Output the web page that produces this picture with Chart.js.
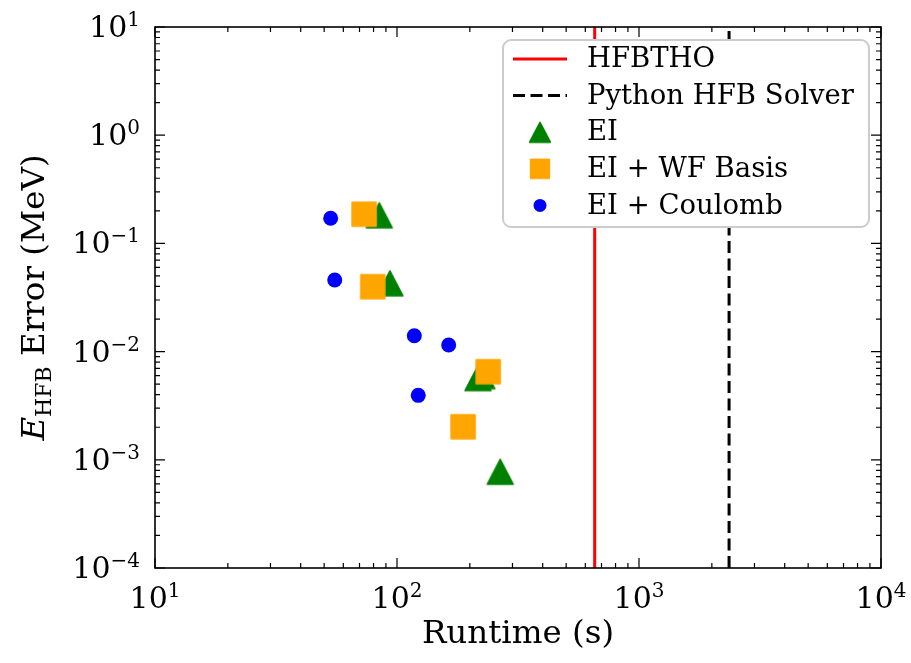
<!DOCTYPE html>
<html>
<head>
<meta charset="utf-8">
<script src="https://cdn.jsdelivr.net/npm/chart.js@4.4.1/dist/chart.umd.min.js"></script>
<style>
  html, body { margin: 0; padding: 0; background: #fff; }
  #wrap { width: 911px; height: 663px; }
</style>
</head>
<body>
<div id="wrap"><canvas id="chart"></canvas></div>
<script>
// values
const eiRuntime = [84.5, 93.5, 216, 224, 267];
const eiError = [0.182, 0.0428, 0.0057, 0.00594, 0.000776];

const wfRuntime = [73.1, 79.4, 238, 187.5];
const wfError = [0.186, 0.0398, 0.00652, 0.00202];

const coulombRuntime = [53.2, 55.3, 117.9, 163.5, 122.4];
const coulombError = [0.171, 0.0459, 0.0140, 0.0115, 0.00394];

const hfbthoRuntime = 656;
const pythonRuntime = 2356;

const xExponents = [1, 2, 3, 4];
const yExponents = [-4, -3, -2, -1, 0, 1];

const legendLabels = ["HFBTHO", "Python HFB Solver", "EI", "EI + WF Basis", "EI + Coulomb"];

const serif = '"DejaVu Serif", serif';

const toPoints = (xs, ys) => xs.map((v, i) => ({ x: v, y: ys[i] }));

function triangleMarker(scale) {
  const c = document.createElement("canvas");
  const w = Math.round(30 * scale), h = Math.round(29 * scale);
  c.width = w; c.height = h;
  const g = c.getContext("2d");
  g.fillStyle = g.strokeStyle = "#008000";
  g.lineJoin = "round";
  g.lineWidth = 1.5;
  g.beginPath();
  g.moveTo(w / 2, 2 * scale);
  g.lineTo(w - 2 * scale, h - 2 * scale);
  g.lineTo(2 * scale, h - 2 * scale);
  g.closePath();
  g.fill(); g.stroke();
  return c;
}

function squareMarker(scale) {
  const c = document.createElement("canvas");
  const s = Math.round(28 * scale);
  c.width = s; c.height = s;
  const g = c.getContext("2d");
  g.fillStyle = g.strokeStyle = "#ffa500";
  g.lineJoin = "round";
  g.lineWidth = 1.5;
  g.beginPath();
  g.rect(2 * scale, 2 * scale, s - 4 * scale, s - 4 * scale);
  g.fill(); g.stroke();
  return c;
}

const triImg = triangleMarker(1);
const sqImg = squareMarker(1);
const triSmall = triangleMarker(0.8);
const sqSmall = squareMarker(0.8);

function drawPow(ctx, exp, cx, cy, align) {
  const base = "10";
  const sup = exp < 0 ? "\u2212" + (-exp) : String(exp);
  ctx.font = "30px " + serif;
  const wb = ctx.measureText(base).width;
  ctx.font = "20px " + serif;
  const ws = ctx.measureText(sup).width;
  const total = wb + ws;
  let x0 = align === "right" ? cx - total : cx - total / 2;
  ctx.textBaseline = "alphabetic";
  ctx.textAlign = "left";
  ctx.font = "30px " + serif;
  ctx.fillText(base, x0, cy + 11);
  ctx.font = "20px " + serif;
  ctx.fillText(sup, x0 + wb, cy);
}

const decor = {
  id: "decor",
  afterDatasetsDraw(chart) {
    const { ctx, chartArea: a, scales } = chart;
    const xs = scales.x, ys = scales.y;
    ctx.save();
    ctx.strokeStyle = "#000";
    ctx.lineWidth = 1.2;
    ctx.beginPath();
    for (let e = 1; e <= 4; e++) {
      for (let m = 1; m <= 9; m++) {
        if (e === 4 && m > 1) break;
        const px = xs.getPixelForValue(m * Math.pow(10, e));
        const len = m === 1 ? 10 : 5;
        ctx.moveTo(px, a.bottom); ctx.lineTo(px, a.bottom - len);
        ctx.moveTo(px, a.top); ctx.lineTo(px, a.top + len);
      }
    }
    for (let e = -4; e <= 1; e++) {
      for (let m = 1; m <= 9; m++) {
        if (e === 1 && m > 1) break;
        const py = ys.getPixelForValue(m * Math.pow(10, e));
        const len = m === 1 ? 10 : 5;
        ctx.moveTo(a.left, py); ctx.lineTo(a.left + len, py);
        ctx.moveTo(a.right, py); ctx.lineTo(a.right - len, py);
      }
    }
    ctx.stroke();
    ctx.lineWidth = 1.6;
    ctx.strokeRect(a.left, a.top, a.right - a.left, a.bottom - a.top);
    ctx.restore();
  },
  afterDraw(chart) {
    const { ctx, chartArea: a, scales } = chart;
    const xs = scales.x, ys = scales.y;
    ctx.save();
    ctx.fillStyle = "#000";

    // tick labels
    xExponents.forEach(e => drawPow(ctx, e, xs.getPixelForValue(Math.pow(10, e)), 597, "center"));
    yExponents.forEach(e => drawPow(ctx, e, a.left - 15, ys.getPixelForValue(Math.pow(10, e)) - 1, "right"));

    // x title
    ctx.font = "32.5px " + serif;
    ctx.textAlign = "center";
    ctx.textBaseline = "alphabetic";
    ctx.fillText("Runtime (s)", (a.left + a.right) / 2, 643);

    // y title
    ctx.save();
    ctx.translate(33, (a.top + a.bottom) / 2);
    ctx.rotate(-Math.PI / 2);
    ctx.textAlign = "left";
    const fE = "italic 32.5px " + serif, fSub = "22px " + serif, fRest = "32.5px " + serif;
    ctx.font = fE; const wE = ctx.measureText("E").width;
    ctx.font = fSub; const wS = ctx.measureText("HFB").width;
    ctx.font = fRest; const rest = " Error (MeV)"; const wR = ctx.measureText(rest).width;
    let x0 = -(wE + wS + wR) / 2;
    ctx.font = fE; ctx.fillText("E", x0, 11);
    ctx.font = fSub; ctx.fillText("HFB", x0 + wE, 18);
    ctx.font = fRest; ctx.fillText(rest, x0 + wE + wS, 11);
    ctx.restore();

    // legend
    const bx = 503, by = 40, bw = 366, bh = 187;
    ctx.beginPath();
    ctx.roundRect(bx, by, bw, bh, 8);
    ctx.fillStyle = "#ffffff";
    ctx.fill();
    ctx.lineWidth = 2;
    ctx.strokeStyle = "#cccccc";
    ctx.stroke();

    const rowY = i => 59 + i * 36.6;
    ctx.lineWidth = 3;
    ctx.strokeStyle = "#ff0000";
    ctx.beginPath(); ctx.moveTo(513, rowY(0)); ctx.lineTo(567, rowY(0)); ctx.stroke();
    ctx.strokeStyle = "#000";
    ctx.setLineDash([12, 5.5]);
    ctx.beginPath(); ctx.moveTo(513, rowY(1)); ctx.lineTo(567, rowY(1)); ctx.stroke();
    ctx.setLineDash([]);
    ctx.drawImage(triSmall, 540 - triSmall.width / 2, rowY(2) - triSmall.height / 2);
    ctx.drawImage(sqSmall, 540 - sqSmall.width / 2, rowY(3) - sqSmall.height / 2);
    ctx.fillStyle = "#0000ff";
    ctx.beginPath(); ctx.arc(540, rowY(4), 6.5, 0, Math.PI * 2); ctx.fill();

    ctx.fillStyle = "#000";
    ctx.font = "27.5px " + serif;
    ctx.textAlign = "left";
    ctx.textBaseline = "middle";
    legendLabels.forEach((t, i) => ctx.fillText(t, 587, rowY(i) + 1));
    ctx.restore();
  }
};

const vline = (xv, color, dash, order) => ({
  type: "line",
  data: [{ x: xv, y: 1e-4 }, { x: xv, y: 10 }],
  borderColor: color,
  borderWidth: 3,
  borderDash: dash,
  pointRadius: 0,
  showLine: true,
  fill: false,
  order: order
});

const hiddenAxis = {
  ticks: { display: false },
  grid: { display: false, drawTicks: false },
  border: { display: false },
  title: { display: false }
};

new Chart(document.getElementById("chart"), {
  type: "scatter",
  data: {
    datasets: [
      vline(hfbthoRuntime, "#ff0000", [], 5),
      vline(pythonRuntime, "#000000", [12, 5.5], 4),
      {
        label: "EI",
        data: toPoints(eiRuntime, eiError),
        pointStyle: triImg,
        order: 3
      },
      {
        label: "EI + WF Basis",
        data: toPoints(wfRuntime, wfError),
        pointStyle: sqImg,
        order: 2
      },
      {
        label: "EI + Coulomb",
        data: toPoints(coulombRuntime, coulombError),
        pointStyle: "circle",
        pointRadius: 7.5,
        pointBackgroundColor: "#0000ff",
        pointBorderWidth: 0,
        order: 1
      }
    ]
  },
  options: {
    responsive: true,
    maintainAspectRatio: false,
    animation: false,
    layout: { padding: { left: 155, top: 27, right: 30, bottom: 95 } },
    plugins: { legend: { display: false }, tooltip: { enabled: false } },
    scales: {
      x: Object.assign({ type: "logarithmic", min: 10, max: 10000 }, hiddenAxis),
      y: Object.assign({ type: "logarithmic", min: 1e-4, max: 10 }, hiddenAxis)
    }
  },
  plugins: [decor]
});
</script>
</body>
</html>
